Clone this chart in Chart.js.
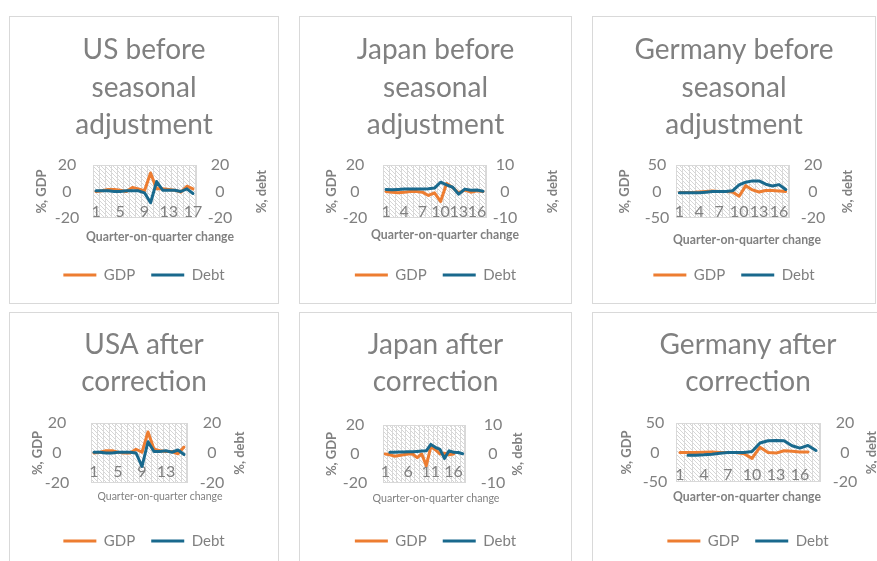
<!DOCTYPE html>
<html><head><meta charset="utf-8">
<script src="https://cdn.jsdelivr.net/npm/chart.js@4.4.1/dist/chart.umd.min.js"></script>
<style>
html,body{margin:0;padding:0;background:#fff;overflow:hidden;width:877px;height:561px;position:relative;}
.panel{position:absolute;border:1px solid #d9d9d9;overflow:hidden;}
.panel canvas{display:block;}
</style></head><body>
<div class="panel" id="p0"><canvas id="c0"></canvas></div>
<div class="panel" id="p1"><canvas id="c1"></canvas></div>
<div class="panel" id="p2"><canvas id="c2"></canvas></div>
<div class="panel" id="p3"><canvas id="c3"></canvas></div>
<div class="panel" id="p4"><canvas id="c4"></canvas></div>
<div class="panel" id="p5"><canvas id="c5"></canvas></div>
<script>
// ---------- DATA ----------
const categories16 = ['1','2','3','4','5','6','7','8','9','10','11','12','13','14','15','16'];
const categories17 = ['1','2','3','4','5','6','7','8','9','10','11','12','13','14','15','16','17'];
const categories18 = ['1','2','3','4','5','6','7','8','9','10','11','12','13','14','15','16','17','18'];

const seriesNames = ['GDP', 'Debt'];

const usBeforeGdp   = [0, 0.5, 1.5, 1.5, 1, 0, 3, 2, 0.5, 14, 2, 2, 1.5, 1, -0.5, 4, 2];
const usBeforeDebt  = [0.5, 0.5, 0.5, 0, 0, 0.5, 0.5, 0.5, -1, -8.5, 7.5, 1, 1, 1, 0, 2, -1.5];

const japanBeforeGdp  = [0, -0.5, -1, -0.5, 0, 0, -0.5, -3, -1, -7.5, 6, 3, -1, 1, -0.5, 0.5, 0];
const japanBeforeDebt = [0.8, 0.7, 0.8, 0.9, 0.9, 0.9, 0.9, 1, 1.3, 3.5, 2.5, 1.6, -1, 0.9, 0.5, 0.6, 0.1];

const germanyBeforeGdp  = [-2, -2, -2, -1, 0, 1, 0, 0, -1, -9, 11, 3, -1, 2, 2, 1, 0];
const germanyBeforeDebt = [-1, -1, -1, -1, -0.5, 0, 0, 0, 0.5, 5, 7, 8, 8, 5.5, 4.2, 5.2, 1.5];

const usAfterGdp  = [0, 0.5, 1.5, 1.5, 0.5, 0, 0, 2.5, 0.5, 14, 2.5, 1.5, 1, 1, -0.5, 4];
const usAfterDebt = [0.5, 0.5, 0, 0, 0.5, 0.5, 0.5, 0, -9, 7.5, 1, 1, 1.5, 0.5, 2, -1];

const japanAfterGdp  = [0, -0.5, -1.5, -1, -0.5, 0, 0, -2.5, 0, -8, 5, 3, 0, 0.5, -0.5, 0, null, null];
const japanAfterDebt = [null, 0.6, 0.6, 0.7, 0.7, 0.8, 0.8, 0.9, 1.0, 1.1, 3.3, 2.3, 1.6, -1.5, 1.1, 0.6, 0.5, 0.1];

const germanyAfterGdp  = [0, 0, 0, 0.5, 1, 0, 0, 0, -2, -10, 9, 0, -1, 3, 2, 1, 1, null];
const germanyAfterDebt = [null, -1.8, -1.8, -1.6, -1.2, -0.5, 0, 0, 0, 0.7, 6.4, 8, 8.2, 8, 4.6, 3, 4.8, 1.4];

const chartTitles = [
  ['US before', 'seasonal', 'adjustment'],
  ['Japan before', 'seasonal', 'adjustment'],
  ['Germany before', 'seasonal', 'adjustment'],
  ['USA after', 'correction'],
  ['Japan after', 'correction'],
  ['Germany after', 'correction']
];
const xAxisTitle = 'Quarter-on-quarter change';
const leftAxisTitle = '%, GDP';
const rightAxisTitle = '%, debt';

// axis ranges: [min, max, step]
const gdpAxisRanges  = [[-20,20,20],[-20,20,20],[-50,50,50],[-20,20,20],[-20,20,20],[-50,50,50]];
const debtAxisRanges = [[-20,20,20],[-10,10,10],[-20,20,20],[-20,20,20],[-10,10,10],[-20,20,20]];

const chartCategories = [categories17, categories17, categories17, categories16, categories18, categories18];
const chartGdp  = [usBeforeGdp, japanBeforeGdp, germanyBeforeGdp, usAfterGdp, japanAfterGdp, germanyAfterGdp];
const chartDebt = [usBeforeDebt, japanBeforeDebt, germanyBeforeDebt, usAfterDebt, japanAfterDebt, germanyAfterDebt];

// ---------- LAYOUT / STYLE ----------
const GDP_COLOR = '#ED7D31';
const DEBT_COLOR = '#19698D';
const TEXT_COLOR = '#808080';
const FONT = "Lato, 'Liberation Sans', Arial, sans-serif";
const AX_TITLE_SIZE = 13;

const layoutSpecs = [
  {x:10,  y:17,  w:268, h:286, L:83, R:186, T:148, B:201, t0:33, lh:37.5, xt:195, xT:220, xc:150, xw:148, xs:13, lg:258, lT:32, lt:57, rt:210, rT:252, step:4, xBold:true},
  {x:300, y:17,  w:271, h:286, L:83, R:186, T:148, B:201, t0:33, lh:37.5, xt:195, xT:218, xc:145, xw:148, xs:13, lg:258, lT:32, lt:55, rt:205, rT:253, step:3, xBold:true},
  {x:593, y:17,  w:282, h:286, L:83, R:196, T:148, B:201, t0:33, lh:37.5, xt:195, xT:223, xc:154, xw:148, xs:13, lg:258, lT:32, lt:64, rt:220, rT:255, step:3, xBold:true},
  {x:10,  y:313, w:268, h:256, L:81, R:177, T:110, B:170, t0:32, lh:37,   xt:159, xT:183, xc:150, xw:125, xs:12, lg:228, lT:28, lt:47, rt:202, rT:230, step:4, xBold:false},
  {x:300, y:313, w:271, h:256, L:83, R:165, T:112, B:170, t0:32, lh:37,   xt:159, xT:185, xc:136, xw:127, xs:12, lg:228, lT:32, lt:55, rt:193, rT:218, step:5, xBold:false},
  {x:593, y:313, w:310, h:256, L:83, R:227, T:110, B:169, t0:32, lh:37,   xt:162, xT:184, xc:154, xw:148, xs:13, lg:228, lT:34, lt:62, rt:252, rT:279, step:3, xBold:true}
];

const mctx = document.createElement('canvas').getContext('2d');
function textWidth(txt, font) { mctx.font = font; return mctx.measureText(txt).width; }

const decorPlugin = {
  id: 'decor',
  beforeDraw(chart, args, opts) {
    const {ctx, chartArea: a} = chart;
    ctx.save();
    ctx.fillStyle = '#ffffff';
    ctx.fillRect(0, 0, chart.width, chart.height);
    ctx.beginPath();
    ctx.rect(a.left, a.top, a.right - a.left, a.bottom - a.top);
    ctx.clip();
    ctx.strokeStyle = '#d6d6d6';
    ctx.lineWidth = 1;
    const h = a.bottom - a.top;
    ctx.beginPath();
    for (let k = -h; k < a.right - a.left + 4; k += 4) {
      ctx.moveTo(a.left + k, a.top);
      ctx.lineTo(a.left + k + h, a.bottom);
    }
    ctx.stroke();
    ctx.restore();
    ctx.save();
    ctx.strokeStyle = '#d9d9d9';
    ctx.lineWidth = 1;
    ctx.strokeRect(Math.round(a.left) + 0.5, Math.round(a.top) + 0.5, Math.round(a.right - a.left) - 1, Math.round(a.bottom - a.top) - 1);
    ctx.restore();
  },
  afterDraw(chart, args, opts) {
    const {ctx, chartArea: a} = chart;
    // right axis title (reads bottom to top)
    ctx.save();
    ctx.translate(opts.x, (a.top + a.bottom) / 2);
    ctx.rotate(-Math.PI / 2);
    ctx.textAlign = 'center';
    ctx.textBaseline = 'middle';
    ctx.font = 'bold ' + AX_TITLE_SIZE + 'px ' + FONT;
    ctx.fillStyle = TEXT_COLOR;
    ctx.fillText(opts.text, 0, 0);
    ctx.restore();
    // category axis title (wider than the plot area)
    ctx.save();
    ctx.textAlign = 'center';
    ctx.textBaseline = 'middle';
    ctx.font = opts.xFont;
    ctx.fillStyle = TEXT_COLOR;
    ctx.fillText(opts.xText, opts.xc, opts.xy, opts.xw);
    ctx.restore();
  }
};

function makeChart(i) {
  const s = layoutSpecs[i];
  const panel = document.getElementById('p' + i);
  panel.style.left = (s.x - 1) + 'px';
  panel.style.top = (s.y - 1) + 'px';
  panel.style.width = s.w + 'px';
  panel.style.height = s.h + 'px';
  const canvas = document.getElementById('c' + i);
  canvas.width = s.w; canvas.height = s.h;
  canvas.style.width = s.w + 'px'; canvas.style.height = s.h + 'px';

  const titleLines = chartTitles[i];
  const titlePadTop = s.t0 - s.lh / 2;
  const titlePadBottom = s.T - titlePadTop - titleLines.length * s.lh;

  const legendPad = 16, legendFont = 15;
  const legendTop = s.lg - legendPad - legendFont / 2;
  const legendH = legendFont + legendPad + 10;
  const padBottom = s.h - legendTop - legendH;

  const tickSize = 16, tickLh = tickSize * 1.2;
  const xTickPad = s.B - s.xt - tickLh / 2;

  const xFont = (s.xBold ? 'bold ' : '') + s.xs + 'px ' + FONT;

  const g = gdpAxisRanges[i], d = debtAxisRanges[i];
  const tickFont = tickSize + 'px ' + FONT;
  const wl = Math.max(textWidth(String(g[0]), tickFont), textWidth(String(g[1]), tickFont));
  const wr = Math.max(textWidth(String(d[0]), tickFont), textWidth(String(d[1]), tickFont));
  const leftPad = s.L - s.lt - wl / 2;
  const rightPad = s.rt - s.R - wr / 2;
  const axTitleLh = AX_TITLE_SIZE * 1.2;

  return new Chart(canvas, {
    type: 'line',
    data: {
      labels: chartCategories[i],
      datasets: [
        {label: seriesNames[0], data: chartGdp[i], yAxisID: 'y', borderColor: GDP_COLOR, backgroundColor: GDP_COLOR,
         borderWidth: 3, pointRadius: 0, tension: 0, borderJoinStyle: 'round', borderCapStyle: 'round', order: 1},
        {label: seriesNames[1], data: chartDebt[i], yAxisID: 'y1', borderColor: DEBT_COLOR, backgroundColor: DEBT_COLOR,
         borderWidth: 3, pointRadius: 0, tension: 0, borderJoinStyle: 'round', borderCapStyle: 'round', order: 0}
      ]
    },
    options: {
      responsive: false,
      animation: false,
      devicePixelRatio: 1,
      layout: {padding: {left: 0, right: 0, top: 0, bottom: padBottom}},
      plugins: {
        tooltip: {enabled: false},
        title: {
          display: true, text: titleLines, color: TEXT_COLOR,
          font: {family: FONT, size: 28, weight: 'normal', lineHeight: s.lh / 28},
          padding: {top: titlePadTop, bottom: titlePadBottom}
        },
        legend: {
          position: 'bottom',
          labels: {
            boxWidth: 33, boxHeight: 3, padding: legendPad, color: TEXT_COLOR,
            font: {family: FONT, size: legendFont},
            sort: (a, b) => a.datasetIndex - b.datasetIndex,
            generateLabels(chart) {
              const items = Chart.defaults.plugins.legend.labels.generateLabels(chart);
              return items.map(it => Object.assign(it, {lineWidth: 0, fillStyle: chart.data.datasets[it.datasetIndex].borderColor}));
            }
          }
        },
        decor: {x: s.rT, text: rightAxisTitle, xText: xAxisTitle, xFont: xFont, xc: s.xc, xy: s.xT, xw: s.xw}
      },
      scales: {
        x: {
          type: 'category', offset: true,
          grid: {display: true, offset: true, color: '#d9d9d9', lineWidth: 1, drawTicks: false},
          border: {display: false},
          ticks: {
            autoSkip: false, maxRotation: 0, minRotation: 0, mirror: true, padding: xTickPad, color: TEXT_COLOR,
            font: {family: FONT, size: tickSize},
            callback(val, idx) { return idx % s.step === 0 ? this.getLabelForValue(val) : ''; }
          },
          title: {display: false},
          afterFit(scale) { scale.height = s.h - padBottom - scale.chart.legend.height - s.B; }
        },
        y: {
          position: 'left', min: g[0], max: g[1],
          grid: {display: false, drawTicks: false}, border: {display: false},
          ticks: {stepSize: g[2], padding: leftPad, crossAlign: 'center', color: TEXT_COLOR, font: {family: FONT, size: tickSize}},
          title: {display: true, text: leftAxisTitle, color: TEXT_COLOR, font: {family: FONT, size: AX_TITLE_SIZE, weight: 'bold'},
                  padding: {top: s.lT - axTitleLh / 2, bottom: 0}},
          afterFit(scale) { scale.width = s.L; }
        },
        y1: {
          position: 'right', min: d[0], max: d[1],
          grid: {display: false, drawTicks: false}, border: {display: false},
          ticks: {stepSize: d[2], padding: rightPad, crossAlign: 'center', color: TEXT_COLOR, font: {family: FONT, size: tickSize}},
          afterFit(scale) { scale.width = s.w - s.R; }
        }
      }
    },
    plugins: [decorPlugin]
  });
}

for (let i = 0; i < 6; i++) makeChart(i);
</script>
</body></html>
